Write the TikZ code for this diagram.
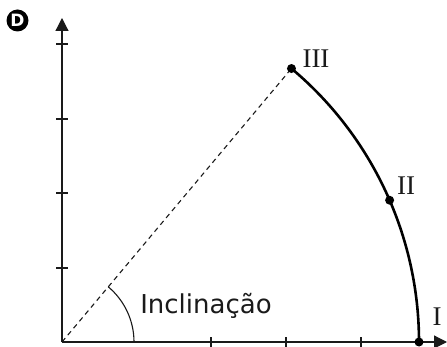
\documentclass[tikz,border=0pt]{standalone}
\usepackage{fontspec}
\setmainfont{Liberation Serif}
\newfontfamily\labelsans{DejaVu Sans}
\usetikzlibrary{arrows.meta,calc}
\definecolor{ink}{HTML}{1A1A1A}
\tikzset{
  axisline/.style={draw=ink, line width=1.2pt, -{Triangle[length=13pt,width=13pt]}},
  tickline/.style={draw=ink, line width=1.1pt},
  dot/.style={circle, fill=black, inner sep=0pt, minimum size=9pt},
  roman/.style={font=\fontsize{27}{27}\selectfont, text=ink, inner sep=0pt},
}
\begin{document}
\begin{tikzpicture}[x=1pt,y=-1pt]
\useasboundingbox (0,0) rectangle (447,347);
\coordinate (O) at (62,342);
\coordinate (XE) at (447,342);
\coordinate (YE) at (62,18);
% axes
\draw[axisline] (O) -- (XE);
\draw[axisline] (O) -- (YE);
% ticks
\foreach \y in {268,193,119,44} \draw[tickline] (56,\y) -- (68,\y);
\foreach \x in {211,286,361} \draw[tickline] (\x,337) -- (\x,347);
% main arc
\draw[line width=2.6pt, draw=black] (419,342) arc[start angle=0, end angle=-50, radius=357];
% inclination arc
\draw[line width=1.1pt, draw=ink] (134,342) arc[start angle=0, end angle=-50, radius=72];
% points
\node[dot] (I) at (419,342) {};
\node[dot] (II) at ($(O)+(-23.4:357)$) {};
\node[dot] (III) at ($(O)+(-50:357)$) {};
% dashed line
\draw[ink, line width=1.1pt, dash pattern=on 5pt off 4pt] (O) -- (III);
% labels
\node[roman] (lIII) at (316,59) {III};
\node[roman] (lII) at (406,186) {II};
\node[roman] (lI) at (437,317) {I};
\node[font=\labelsans\fontsize{26}{26}\selectfont, text=ink, inner sep=0pt] (incl) at (206,306) {Inclinação};
% badge
\node[circle, fill=black, minimum size=22pt, inner sep=0pt, text=white, font=\labelsans\bfseries\fontsize{17}{17}\selectfont] (badge) at (17.5,20.5) {D};
\end{tikzpicture}
\end{document}
